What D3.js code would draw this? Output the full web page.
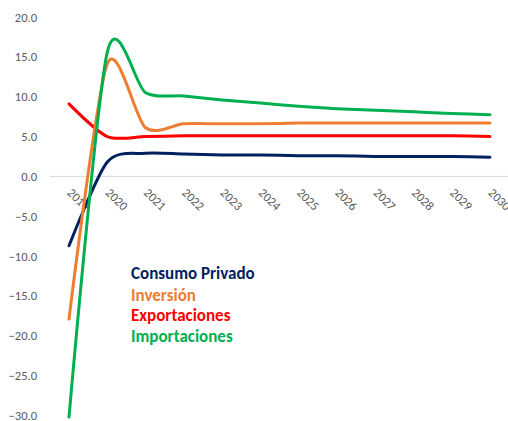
<!DOCTYPE html>
<html>
<head>
<meta charset="utf-8">
<script src="https://cdn.jsdelivr.net/npm/d3@7"></script>
<style>
  body { margin: 0; background: #fff; }
  svg { display: block; }
</style>
</head>
<body>
<svg id="chart" width="508" height="421"></svg>
<script>
const years = ["2019","2020","2021","2022","2023","2024","2025","2026","2027","2028","2029","2030"];
const consumoPrivado = [-8.7, 1.8, 2.9, 2.8, 2.7, 2.7, 2.6, 2.6, 2.5, 2.5, 2.5, 2.4];
const inversion      = [-17.9, 14.1, 6.1, 6.6, 6.6, 6.6, 6.7, 6.7, 6.7, 6.7, 6.7, 6.7];
const exportaciones  = [9.1, 5.0, 5.0, 5.1, 5.1, 5.1, 5.1, 5.1, 5.1, 5.1, 5.1, 5.0];
const importaciones  = [-30.2, 15.6, 10.5, 10.1, 9.6, 9.2, 8.8, 8.5, 8.3, 8.1, 7.9, 7.75];
const seriesNames  = ["Consumo Privado", "Inversión", "Exportaciones", "Importaciones"];
const seriesColors = ["#002060", "#ED7D31", "#FF0000", "#00B050"];
const yTicks = [20, 15, 10, 5, 0, -5, -10, -15, -20, -25, -30];

const svg = d3.select("#chart");
const x = d3.scalePoint().domain(years).range([69, 490]);
const y = d3.scaleLinear().domain([-30, 20]).range([415.5, 17]);

// zero axis line
svg.append("line")
  .attr("x1", 50).attr("x2", 508)
  .attr("y1", y(0)).attr("y2", y(0))
  .attr("stroke", "#d9d9d9").attr("stroke-width", 1);

// y axis labels
const yAxis = d3.axisLeft(y).tickValues(yTicks).tickFormat(d3.format(".1f")).tickSize(0).tickPadding(0);
const gy = svg.append("g").attr("transform", "translate(37,0)").call(yAxis);
gy.select(".domain").remove();
gy.selectAll("text")
  .attr("font-family", "Carlito, 'Liberation Sans', Arial, sans-serif")
  .attr("font-size", 12.5).attr("fill", "#595959");

// x axis labels rotated
const xAxis = d3.axisBottom(x).tickSize(0).tickPadding(0);
const gx = svg.append("g").attr("transform", `translate(0,${y(0)})`).call(xAxis);
gx.select(".domain").remove();
gx.selectAll("text")
  .attr("font-family", "Carlito, 'Liberation Sans', Arial, sans-serif")
  .attr("font-size", 12.5).attr("fill", "#595959")
  .attr("text-anchor", "start")
  .attr("dy", "0")
  .attr("transform", "translate(-3,17) rotate(45)");

const allSeries = [consumoPrivado, inversion, exportaciones, importaciones];
const line = d3.line()
  .x((d, i) => x(years[i]))
  .y(d => y(d))
  .curve(d3.curveCardinal.tension(0.2));

// draw order: consumo, exportaciones, inversion, importaciones (green on top)
[0, 2, 1, 3].forEach(k => {
  svg.append("path")
    .datum(allSeries[k])
    .attr("d", line)
    .attr("fill", "none")
    .attr("stroke", seriesColors[k])
    .attr("stroke-width", 3)
    .attr("stroke-linecap", "round");
});

// legend
const legendY = [279, 300.5, 321, 342];
seriesNames.forEach((name, i) => {
  svg.append("text")
    .attr("x", 131).attr("y", legendY[i])
    .attr("font-family", "Carlito, 'Liberation Sans', Arial, sans-serif")
    .attr("font-weight", "bold")
    .attr("font-size", 17)
    .attr("fill", seriesColors[i])
    .text(name);
});
</script>
</body>
</html>
